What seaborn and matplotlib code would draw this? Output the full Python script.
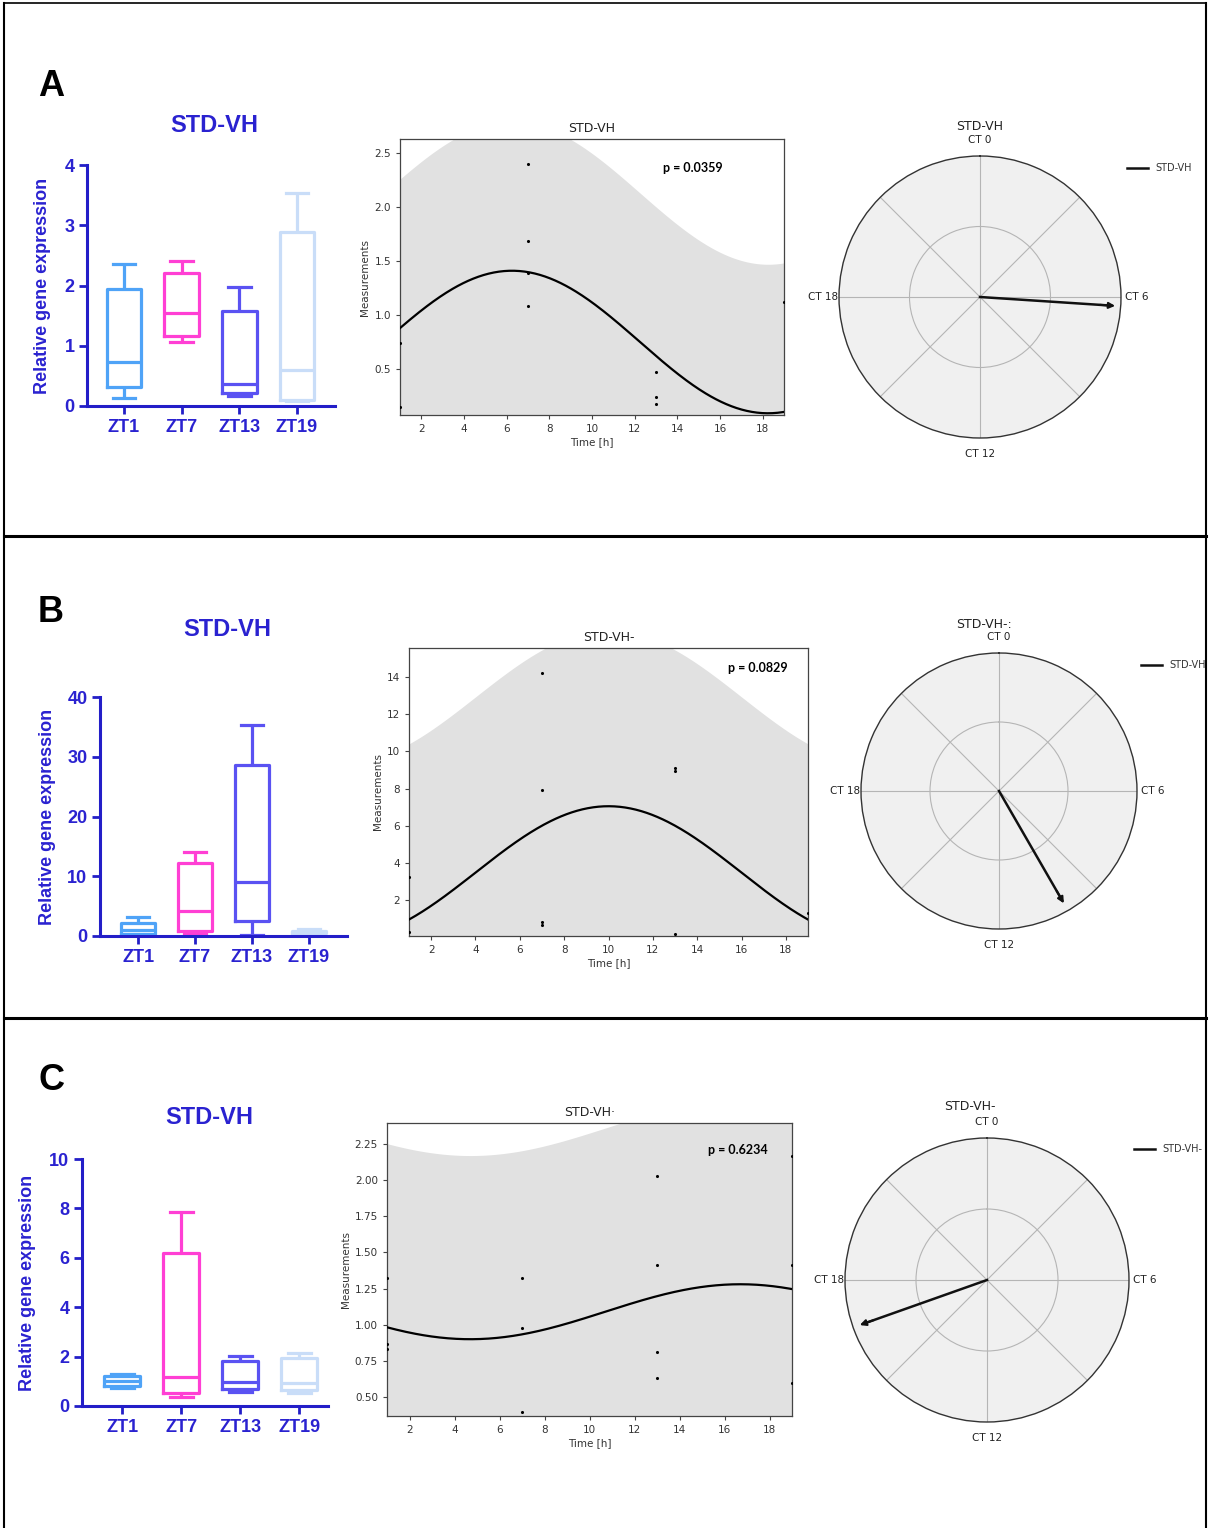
import numpy as np
import pandas as pd
import matplotlib
matplotlib.use("Agg")
import matplotlib.pyplot as plt
from matplotlib.lines import Line2D
import seaborn as sns

plt.rcParams['font.family'] = ['DejaVu Sans']

W, H = 1209, 1528

# ---------------- data ----------------
groups = ["ZT1", "ZT7", "ZT13", "ZT19"]
box_colors = ["#4fa3f7", "#ff3fd4", "#5a52f2", "#c9ddf8"]

# five-number summaries [min, Q1, median, Q3, max]
box_A = {"ZT1": [0.14, 0.31, 0.73, 1.94, 2.35],
         "ZT7": [1.07, 1.17, 1.54, 2.20, 2.40],
         "ZT13": [0.17, 0.21, 0.37, 1.58, 1.98],
         "ZT19": [0.09, 0.10, 0.60, 2.89, 3.53]}
box_B = {"ZT1": [0.0, 0.3, 1.0, 2.2, 3.1],
         "ZT7": [0.45, 0.84, 4.2, 12.3, 14.1],
         "ZT13": [0.17, 2.5, 9.1, 28.6, 35.3],
         "ZT19": [0.4, 0.5, 0.7, 0.9, 1.2]}
box_C = {"ZT1": [0.74, 0.81, 1.02, 1.21, 1.30],
         "ZT7": [0.38, 0.51, 1.16, 6.18, 7.85],
         "ZT13": [0.58, 0.69, 0.98, 1.82, 2.04],
         "ZT19": [0.54, 0.65, 0.92, 1.93, 2.13]}

# cosinor measurements (time, value)
pts_t_A = [1, 1, 7, 7, 7, 7, 13, 13, 13, 19]
pts_y_A = [0.74, 0.15, 2.40, 1.69, 1.39, 1.08, 0.47, 0.24, 0.18, 1.12]
pts_t_B = [1, 1, 7, 7, 7, 7, 13, 13, 13, 19]
pts_y_B = [3.25, 0.3, 14.2, 7.9, 0.8, 0.65, 9.1, 8.95, 0.2, 1.3]
pts_t_C = [1, 1, 1, 7, 7, 7, 13, 13, 13, 13, 19, 19, 19]
pts_y_C = [1.32, 0.87, 0.83, 1.32, 0.98, 0.40, 2.03, 1.41, 0.81, 0.63, 2.17, 1.41, 0.60]

# cosinor fit parameters: mesor, amplitude, acrophase [h], CI half-width
fit_A = [0.75, 0.66, 6.25, 1.38]
fit_B = [3.48, 3.57, 10.0, 9.45]
fit_C = [1.09, 0.19, 16.7, 1.27]
period = 24.0
p_values = ["p = 0.0359", "p = 0.0829", "p = 0.6234"]
arrow_len = [0.98, 0.96, 0.97]

# ---------------- figure ----------------
fig = plt.figure(figsize=(W / 100, H / 100), dpi=100)
fig.patch.set_facecolor("white")

def rect(l, t, r, b):
    return [l / W, 1 - b / H, (r - l) / W, (b - t) / H]

BLUE = "#231ec8"
TBLUE = "#2a22d0"
BF = "Liberation Sans"

def draw_box(ax, stats, ylim, yticks, xlim, ylabel_x):
    rows = [(g, v) for g in groups for v in stats[g]]
    df = pd.DataFrame(rows, columns=["zt", "value"])
    sns.boxplot(data=df, x="zt", y="value", hue="zt", order=groups,
                hue_order=groups, palette=box_colors, fill=False, width=0.6,
                whis=(0, 100), linewidth=2.3, legend=False, showfliers=False,
                ax=ax)
    # widen whisker caps (GraphPad style)
    for ln in ax.lines:
        x = np.asarray(ln.get_xdata(), dtype=float)
        y = np.asarray(ln.get_ydata(), dtype=float)
        if len(x) == 2 and y[0] == y[1] and abs(abs(x[1] - x[0]) - 0.3) < 0.01:
            c = x.mean()
            ln.set_xdata([c - 0.195, c + 0.195])
    ax.set_facecolor("white")
    ax.set_ylim(*ylim)
    ax.set_xlim(*xlim)
    ax.set_yticks(yticks)
    ax.set_xticks(range(4))
    ax.set_xticklabels(groups)
    for s in ["top", "right"]:
        ax.spines[s].set_visible(False)
    for s in ["left", "bottom"]:
        ax.spines[s].set_color(BLUE)
        ax.spines[s].set_linewidth(2.2)
    ax.tick_params(axis="both", direction="out", length=6, width=2,
                   color=BLUE, labelcolor=TBLUE, labelsize=13, pad=3)
    for lab in ax.get_xticklabels() + ax.get_yticklabels():
        lab.set_fontweight("bold")
        lab.set_family(BF)
    ax.set_xlabel("")
    ax.set_ylabel("Relative gene expression", fontsize=13, fontweight="bold",
                  color=TBLUE, family=BF)
    ax.yaxis.set_label_coords(ylabel_x, 0.5)

def draw_cosinor(ax, t, y, fit, ylim, yticks, fmt, title, ptext, ppos):
    mesor, amp, acro, ci = fit
    tt = np.linspace(1, 19, 300)
    curve = mesor + amp * np.cos(2 * np.pi * (tt - acro) / period)
    ax.fill_between(tt, curve - ci, curve + ci, color="#e1e1e1", lw=0, zorder=1)
    sns.lineplot(x=tt, y=curve, ax=ax, color="black", linewidth=1.6, zorder=3)
    sns.scatterplot(x=t, y=y, ax=ax, color="black", s=5, linewidth=0,
                    zorder=4, clip_on=True)
    ax.set_xlim(1, 19)
    ax.set_ylim(*ylim)
    ax.set_xticks(range(2, 19, 2))
    ax.set_yticks(yticks)
    ax.set_yticklabels([fmt % v for v in yticks])
    ax.set_facecolor("white")
    for s in ax.spines.values():
        s.set_color("#444444")
        s.set_linewidth(0.9)
    ax.tick_params(labelsize=7.5, labelcolor="#333333", color="#444444",
                   length=3, width=0.8)
    ax.set_xlabel("Time [h]", fontsize=7.5, color="#333333", labelpad=2)
    ax.set_ylabel("Measurements", fontsize=7.5, color="#333333", labelpad=3)
    ax.set_title(title, fontsize=9, color="#222222", pad=5)
    ax.text(ppos[0], ppos[1], ptext, transform=ax.transAxes, fontsize=9,
            fontweight="bold", family="Lato", ha="center", va="center",
            zorder=5)

def draw_polar(ax, acro, length, label):
    ax.set_theta_zero_location("N")
    ax.set_theta_direction(-1)
    ax.set_facecolor("#f0f0f0")
    ax.set_ylim(0, 1)
    ax.set_yticks([0.5])
    ax.set_yticklabels([])
    ax.set_thetagrids(np.arange(0, 360, 45),
                      ["CT 0", "", "CT 6", "", "CT 12", "", "CT 18", ""],
                      fontsize=7.5, color="#222222")
    ax.tick_params(axis="x", pad=1)
    ax.grid(True, color="#b5b5b5", linewidth=0.8)
    ax.spines["polar"].set_color("#333333")
    ax.spines["polar"].set_linewidth(1.0)
    th = 2 * np.pi * acro / period
    line, = ax.plot([th, th], [0, length * 0.95], color="#111111", lw=1.8,
                    label=label)
    ax.annotate("", xy=(th, length), xytext=(th, length * 0.85),
                arrowprops=dict(arrowstyle="-|>", color="#111111", lw=1.5,
                                mutation_scale=9))
    return line

# ---------- Panel A ----------
axA1 = fig.add_axes(rect(87, 165, 335, 406))
draw_box(axA1, box_A, (0, 4), [0, 1, 2, 3, 4], (-0.64, 3.66), -0.145)
axA2 = fig.add_axes(rect(400, 139, 784, 415))
draw_cosinor(axA2, pts_t_A, pts_y_A, fit_A, (0.074, 2.63),
             [0.5, 1.0, 1.5, 2.0, 2.5], "%.1f", "STD-VH", p_values[0],
             (0.763, 0.895))
axA3 = fig.add_axes(rect(839, 156, 1121, 438), projection="polar")
lA = draw_polar(axA3, fit_A[2], arrow_len[0], "STD-VH")

# ---------- Panel B ----------
axB1 = fig.add_axes(rect(100, 697, 347, 936))
draw_box(axB1, box_B, (0, 40), [0, 10, 20, 30, 40], (-0.67, 3.67), -0.179)
axB2 = fig.add_axes(rect(409, 648, 808, 936))
draw_cosinor(axB2, pts_t_B, pts_y_B, fit_B, (0.07, 15.56),
             [2, 4, 6, 8, 10, 12, 14], "%d", "STD-VH-", p_values[1],
             (0.875, 0.931))
axB3 = fig.add_axes(rect(861, 653, 1137, 929), projection="polar")
lB = draw_polar(axB3, fit_B[2], arrow_len[1], "STD-VH")

# ---------- Panel C ----------
axC1 = fig.add_axes(rect(82, 1159, 328, 1406))
draw_box(axC1, box_C, (0, 10), [0, 2, 4, 6, 8, 10], (-0.68, 3.49), -0.187)
axC2 = fig.add_axes(rect(387, 1123, 792, 1416))
draw_cosinor(axC2, pts_t_C, pts_y_C, fit_C, (0.369, 2.395),
             [0.5, 0.75, 1.0, 1.25, 1.5, 1.75, 2.0, 2.25], "%.2f", "STD-VH\u00b7",
             p_values[2], (0.867, 0.908))
axC3 = fig.add_axes(rect(845, 1138, 1129, 1422), projection="polar")
lC = draw_polar(axC3, fit_C[2], arrow_len[2], "STD-VH-")

# ---------- titles / letters / legends ----------
for (x, y, s) in [(214, 125, "STD-VH"), (227, 630, "STD-VH"), (209, 1117, "STD-VH")]:
    fig.text(x / W, 1 - y / H, s, fontsize=17, fontweight="bold", color=TBLUE,
             family=BF, ha="center", va="center")
for (x, y, s) in [(980, 126, "STD-VH"), (984, 624, "STD-VH-:"), (970, 1107, "STD-VH-")]:
    fig.text(x / W, 1 - y / H, s, fontsize=9, color="#222222", ha="center",
             va="center")
for (x, y, s) in [(51, 86, "A"), (51, 612, "B"), (51, 1080, "C")]:
    fig.text(x / W, 1 - y / H, s, fontsize=26, fontweight="bold", color="black",
             family=BF, ha="center", va="center")

for line, (x, y) in [(lA, (1127, 168)), (lB, (1141, 665)), (lC, (1134, 1149))]:
    fig.legend(handles=[line], labels=[line.get_label()], loc="center left",
               bbox_to_anchor=(x / W, 1 - y / H), frameon=False, fontsize=7,
               borderpad=0, borderaxespad=0, handlelength=2.2,
               handletextpad=0.7, labelcolor="#333333")

# ---------- frame lines ----------
def fline(x0, y0, x1, y1, lw):
    fig.add_artist(Line2D([x0 / W, x1 / W], [1 - y0 / H, 1 - y1 / H],
                          transform=fig.transFigure, color="black", lw=lw))

fline(4, 3, 1206, 3, 1.2)
fline(4, 3, 4, 1528, 1.5)
fline(1206, 3, 1206, 1528, 1.5)
fline(4, 536, 1206, 536, 2.2)
fline(4, 1018, 1206, 1018, 2.2)

fig.savefig("out.png", dpi=100, facecolor="white")
